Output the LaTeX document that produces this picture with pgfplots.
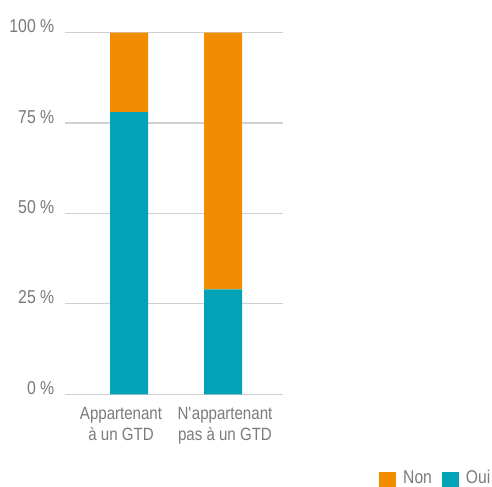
\documentclass[border=0pt]{standalone}
\usepackage{fontspec}
\setmainfont{Liberation Sans}[FakeStretch=0.85]
\usepackage{pgfplots}
\pgfplotsset{compat=1.18}
\definecolor{cOui}{HTML}{00A3B8}
\definecolor{cNon}{HTML}{F28C00}
\definecolor{txt}{HTML}{7A7A7A}
\definecolor{gridc}{HTML}{D0D0D0}
\begin{document}
\begin{tikzpicture}[x=1bp,y=1bp]
\useasboundingbox (0,0) rectangle (492,487);
\begin{axis}[
  at={(65bp,92.7bp)}, anchor=south west,
  scale only axis, width=218bp, height=361.7bp,
  xmin=-0.6809, xmax=1.6383, ymin=0, ymax=100,
  ybar stacked, bar width=38bp,
  axis line style={draw=none}, major tick length=0pt,
  ymajorgrids, grid style={gridc, line width=1.2bp},
  ytick={0,25,50,75,100},
  yticklabels={0 \%,25 \%,50 \%,75 \%,100 \%},
  yticklabel style={anchor=base east, inner sep=0pt, xshift=-10.5bp, yshift=0bp,
    font=\fontsize{18.7}{22}\selectfont, text=txt},
  xtick={-0.085,1.021},
  xticklabels={{Appartenant\\à un GTD},{N\textquotesingle appartenant\\pas à un GTD}},
  xticklabel style={anchor=north, align=center, inner sep=0pt, yshift=-12.5bp,
    font=\fontsize{17.8}{21.7}\selectfont, text=txt},
  reverse legend, legend columns=2,
  legend image code/.code={\fill[#1] (0bp,-11.5bp) rectangle (17bp,5.5bp);},
  legend style={draw=none, fill=none, inner sep=0pt, at={(1.4404,-0.2093)}, anchor=north west,
    font=\fontsize{18.5}{22}\selectfont, text=txt, cells={anchor=west}, nodes={inner sep=0pt},
    /tikz/every odd column/.append style={column sep=7bp},
    /tikz/every even column/.append style={column sep=10bp}},
]
\addplot[fill=cOui, draw=none] coordinates {(0,78) (1,29)};
\addplot[fill=cNon, draw=none] coordinates {(0,22) (1,71)};
\legend{Oui, Non}
\end{axis}
\end{tikzpicture}
\end{document}
